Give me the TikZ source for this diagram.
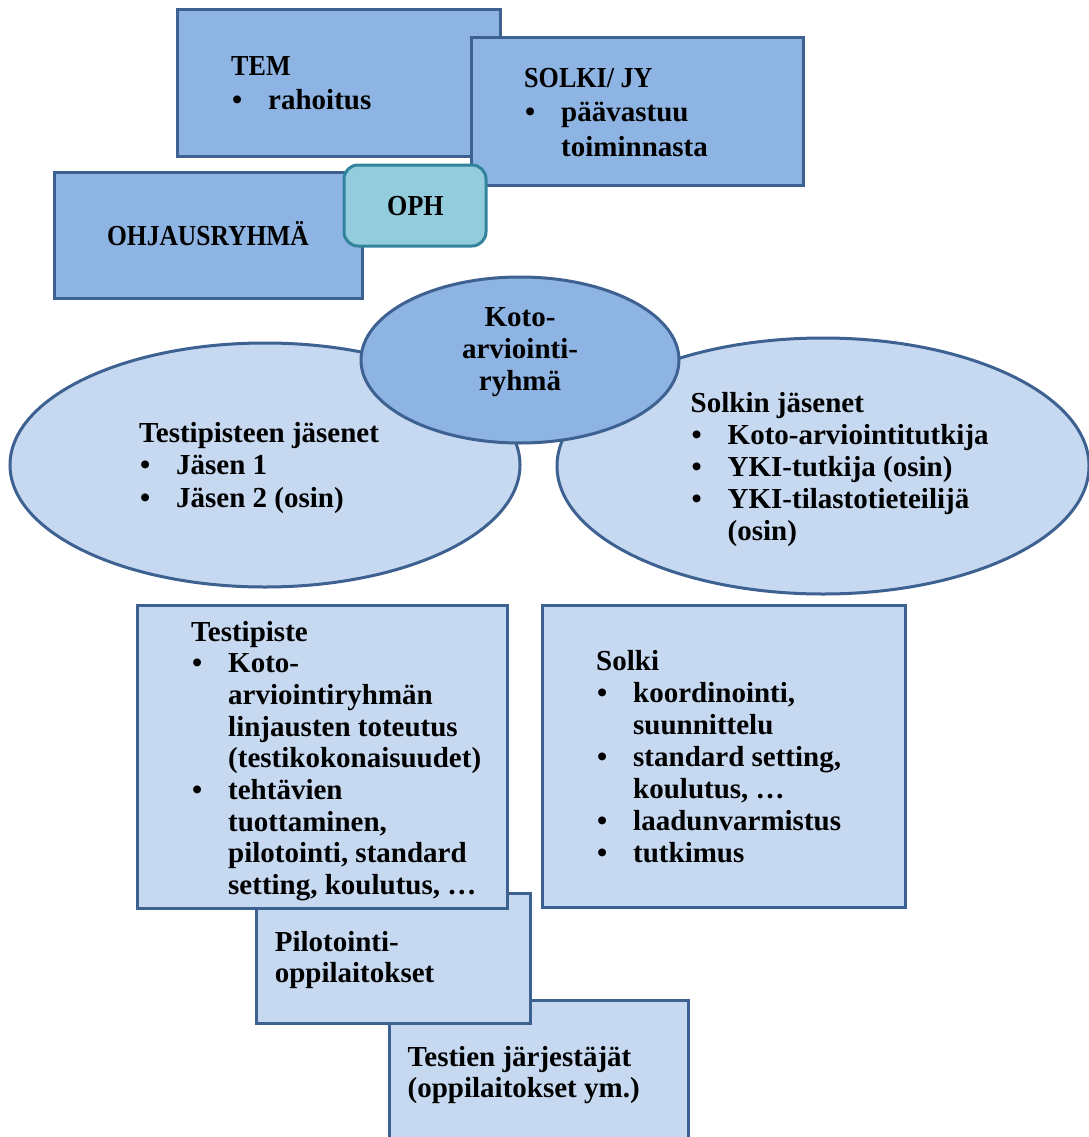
\documentclass[tikz,border=0pt]{standalone}
\usepackage{fontspec}
\setmainfont{Liberation Serif}
\newfontfamily\capsf[FakeStretch=0.9]{Liberation Serif}
\newfontfamily\capsnarrow[FakeStretch=0.88]{Liberation Serif}
\usetikzlibrary{shapes.geometric}
\definecolor{midblue}{HTML}{8EB4E3}
\definecolor{lightblue}{HTML}{C6D9F1}
\definecolor{edgeblue}{HTML}{3D6190}
\definecolor{tealfill}{HTML}{93CDDD}
\definecolor{tealedge}{HTML}{31849B}
\newcommand{\bl}{\hspace*{1pt}\makebox[36pt][l]{\textbullet}}
\newcommand{\ind}{\hspace*{37pt}}
\begin{document}
\begin{tikzpicture}[x=1pt,y=-1pt,
  boxshape/.style={rectangle, draw=edgeblue, line width=3pt, inner sep=0pt},
  darkbox/.style={boxshape, fill=midblue},
  lightbox/.style={boxshape, fill=lightblue},
  ovalshape/.style={ellipse, draw=edgeblue, line width=3pt, inner sep=0pt},
  ophbox/.style={rectangle, rounded corners=14pt, draw=tealedge, line width=3pt, fill=tealfill, inner sep=0pt},
  txt/.style={align=left, anchor=base west, inner sep=0pt},
  sz/.style={font=\bfseries\fontsize{29}{#1}\selectfont}]
\useasboundingbox (0,0) rectangle (1088,1137);
% top boxes
\node[darkbox, minimum width=323, minimum height=146] (tem) at (338.5,83) {};
\node[darkbox, minimum width=332, minimum height=147] (solkijy) at (637,111.5) {};
\node[darkbox, minimum width=308, minimum height=126] (ohj) at (208,235) {};
\node[ophbox, minimum width=142, minimum height=81] (oph) at (415,205.5) {};
% ellipses
\node[ovalshape, fill=lightblue, minimum width=510, minimum height=244] (leftov) at (265,465) {};
\node[ovalshape, fill=lightblue, minimum width=532, minimum height=256] (rightov) at (823,466) {};
\node[ovalshape, fill=midblue, minimum width=318, minimum height=166] (koto) at (520,360) {};
% lower boxes
\node[lightbox, minimum width=299, minimum height=150] (testien) at (538.5,1075) {};
\node[lightbox, minimum width=274, minimum height=130] (pilot) at (393,958) {};
\node[lightbox, minimum width=370, minimum height=303] (testipiste) at (322,756.5) {};
\node[lightbox, minimum width=363, minimum height=302] (solki) at (723.5,756) {};
% texts (anchor base = baseline of the last line)
\node[txt, sz=34] (temtxt) at (231,110) {{\capsf TEM}\\ \bl rahoitus};
\node[txt, sz=34.5] (solkijytxt) at (524,156) {{\capsf SOLKI/ JY}\\ \bl päävastuu\\ \ind toiminnasta};
\node[txt, sz=30, anchor=base] (ophtxt) at (415.5,215) {\capsf OPH};
\node[txt, sz=30, anchor=base] (ohjtxt) at (208,245) {\capsnarrow OHJAUSRYHMÄ};
\node[txt, sz=32, align=center, anchor=base] (kototxt) at (520,390) {Koto-\\arviointi-\\ryhmä};
\node[txt, sz=32.5] (lefttxt) at (139,507) {Testipisteen jäsenet\\ \bl Jäsen 1\\ \bl Jäsen 2 (osin)};
\node[txt, sz=32] (righttxt) at (690.5,540) {Solkin jäsenet\\ \bl Koto-arviointitutkija\\ \bl YKI-tutkija (osin)\\ \bl YKI-tilastotieteilijä\\ \ind (osin)};
\node[txt, sz=31.7] (testipistetxt) at (191,894.6) {Testipiste\\ \bl Koto-\\ \ind arviointiryhmän\\ \ind linjausten toteutus\\ \ind (testikokonaisuudet)\\ \bl tehtävien\\ \ind tuottaminen,\\ \ind pilotointi, standard\\ \ind setting, koulutus, …};
\node[txt, sz=32] (solkitxt) at (596,862) {Solki\\ \bl koordinointi,\\ \ind suunnittelu\\ \bl standard setting,\\ \ind koulutus, …\\ \bl laadunvarmistus\\ \bl tutkimus};
\node[txt, sz=31.5] (pilottxt) at (274.6,982.5) {Pilotointi-\\oppilaitokset};
\node[txt, sz=31] (testientxt) at (407.5,1097) {Testien järjestäjät\\(oppilaitokset ym.)};
\end{tikzpicture}
\end{document}
